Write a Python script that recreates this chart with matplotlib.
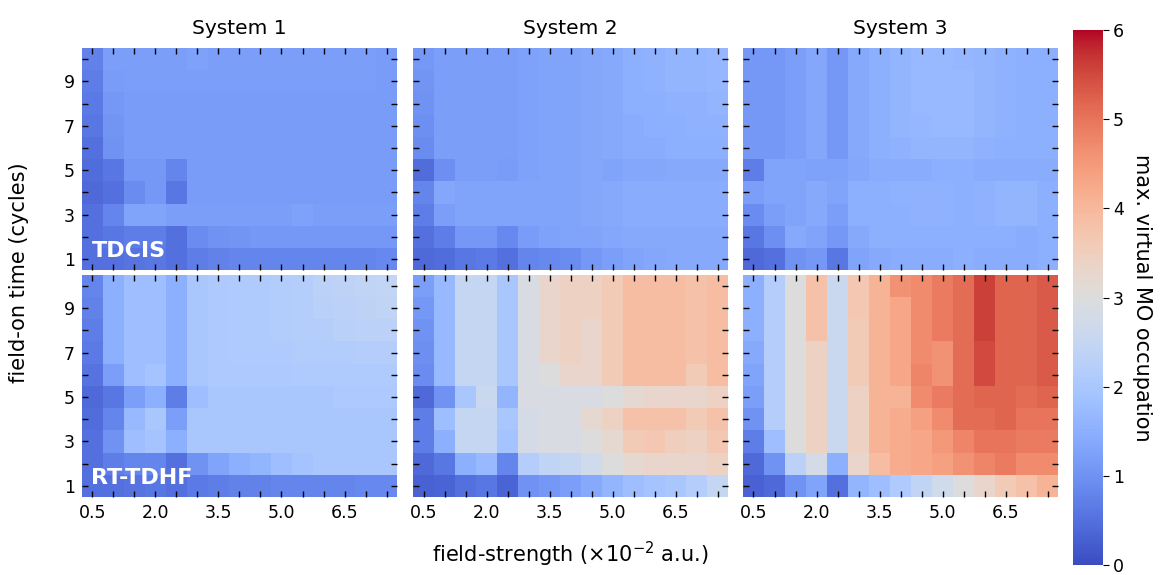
import numpy as np
import matplotlib.pyplot as plt

# field strength (x 10^-2 a.u.) and field-on time (cycles)
field_strength = [0.5, 1.0, 1.5, 2.0, 2.5, 3.0, 3.5, 4.0, 4.5, 5.0, 5.5, 6.0, 6.5, 7.0, 7.5]
field_time = [1, 2, 3, 4, 5, 6, 7, 8, 9, 10]
systems = ["System 1", "System 2", "System 3"]
methods = ["TDCIS", "RT-TDHF"]

# rows: field_time 1 -> 10, columns: field_strength
tdcis_sys1 = [
    [0.5, 0.5, 0.55, 0.6, 0.5, 0.7, 0.75, 0.8, 0.8, 0.8, 0.8, 0.8, 0.8, 0.8, 0.85],
    [0.5, 0.6, 0.7, 0.7, 0.5, 0.9, 1.0, 1.05, 1.1, 1.1, 1.1, 1.1, 1.1, 1.1, 1.1],
    [0.5, 0.8, 1.3, 1.3, 1.2, 1.2, 1.2, 1.2, 1.2, 1.2, 1.25, 1.2, 1.2, 1.2, 1.2],
    [0.4, 0.5, 0.9, 1.1, 0.6, 1.15, 1.15, 1.15, 1.15, 1.15, 1.15, 1.15, 1.15, 1.15, 1.15],
    [0.45, 0.6, 1.1, 1.1, 0.8, 1.15, 1.15, 1.15, 1.15, 1.15, 1.15, 1.15, 1.15, 1.15, 1.15],
    [0.5, 1.0, 1.15, 1.15, 1.15, 1.15, 1.15, 1.15, 1.15, 1.15, 1.15, 1.15, 1.15, 1.15, 1.15],
    [0.6, 1.05, 1.15, 1.15, 1.15, 1.15, 1.15, 1.15, 1.15, 1.15, 1.15, 1.15, 1.15, 1.15, 1.15],
    [0.65, 1.1, 1.15, 1.15, 1.15, 1.15, 1.15, 1.15, 1.15, 1.15, 1.15, 1.15, 1.15, 1.15, 1.15],
    [0.7, 1.15, 1.2, 1.2, 1.2, 1.2, 1.2, 1.2, 1.2, 1.2, 1.2, 1.2, 1.2, 1.2, 1.15],
    [0.75, 1.2, 1.2, 1.2, 1.2, 1.25, 1.2, 1.2, 1.2, 1.2, 1.2, 1.2, 1.2, 1.2, 1.15],
]
tdcis_sys2 = [
    [0.4, 0.45, 0.6, 0.65, 0.5, 0.8, 0.85, 0.9, 1.1, 1.2, 1.3, 1.35, 1.4, 1.4, 1.4],
    [0.5, 0.7, 1.1, 1.1, 0.85, 1.15, 1.25, 1.3, 1.3, 1.35, 1.4, 1.4, 1.4, 1.4, 1.4],
    [0.7, 1.2, 1.3, 1.3, 1.3, 1.3, 1.3, 1.3, 1.35, 1.4, 1.45, 1.45, 1.45, 1.45, 1.45],
    [0.8, 1.35, 1.3, 1.3, 1.3, 1.3, 1.3, 1.3, 1.35, 1.4, 1.45, 1.45, 1.45, 1.45, 1.45],
    [0.45, 0.95, 1.2, 1.2, 1.15, 1.25, 1.3, 1.3, 1.35, 1.3, 1.35, 1.35, 1.4, 1.4, 1.4],
    [0.9, 1.2, 1.2, 1.2, 1.2, 1.25, 1.3, 1.3, 1.35, 1.4, 1.45, 1.45, 1.5, 1.5, 1.5],
    [0.95, 1.2, 1.2, 1.2, 1.2, 1.25, 1.3, 1.3, 1.35, 1.4, 1.45, 1.5, 1.5, 1.55, 1.55],
    [1.0, 1.2, 1.2, 1.2, 1.2, 1.25, 1.3, 1.3, 1.35, 1.4, 1.5, 1.5, 1.55, 1.55, 1.6],
    [1.05, 1.2, 1.2, 1.2, 1.2, 1.25, 1.3, 1.3, 1.35, 1.4, 1.5, 1.55, 1.6, 1.6, 1.65],
    [1.1, 1.2, 1.2, 1.2, 1.2, 1.25, 1.3, 1.3, 1.35, 1.4, 1.5, 1.55, 1.6, 1.6, 1.65],
]
tdcis_sys3 = [
    [0.4, 0.5, 1.0, 1.1, 0.6, 1.3, 1.4, 1.45, 1.45, 1.45, 1.5, 1.45, 1.45, 1.45, 1.5],
    [0.6, 0.95, 1.4, 1.3, 1.1, 1.4, 1.5, 1.5, 1.5, 1.5, 1.5, 1.5, 1.5, 1.45, 1.5],
    [0.9, 1.2, 1.3, 1.4, 1.2, 1.5, 1.5, 1.5, 1.55, 1.55, 1.5, 1.55, 1.6, 1.6, 1.5],
    [1.2, 1.3, 1.3, 1.4, 1.3, 1.5, 1.5, 1.55, 1.55, 1.55, 1.5, 1.55, 1.6, 1.6, 1.5],
    [0.7, 1.3, 1.3, 1.25, 1.25, 1.35, 1.45, 1.45, 1.45, 1.5, 1.5, 1.45, 1.45, 1.45, 1.45],
    [1.1, 1.1, 1.2, 1.35, 1.1, 1.4, 1.5, 1.55, 1.6, 1.6, 1.6, 1.55, 1.5, 1.5, 1.5],
    [1.1, 1.1, 1.2, 1.35, 1.1, 1.4, 1.5, 1.6, 1.65, 1.7, 1.7, 1.6, 1.55, 1.5, 1.5],
    [1.1, 1.1, 1.2, 1.35, 1.1, 1.4, 1.5, 1.6, 1.7, 1.7, 1.7, 1.6, 1.55, 1.5, 1.5],
    [1.1, 1.1, 1.2, 1.35, 1.1, 1.4, 1.5, 1.6, 1.7, 1.7, 1.7, 1.6, 1.55, 1.5, 1.5],
    [1.1, 1.1, 1.2, 1.35, 1.1, 1.4, 1.5, 1.6, 1.7, 1.7, 1.65, 1.6, 1.55, 1.5, 1.5],
]
rttdhf_sys1 = [
    [0.5, 0.5, 0.55, 0.6, 0.5, 0.65, 0.7, 0.75, 0.75, 0.8, 0.8, 0.8, 0.8, 0.85, 0.85],
    [0.5, 0.7, 0.8, 0.8, 0.5, 1.0, 1.3, 1.5, 1.6, 1.8, 1.9, 2.0, 2.0, 2.0, 2.0],
    [0.5, 1.0, 1.8, 1.9, 1.5, 2.0, 2.0, 2.0, 2.0, 2.0, 2.0, 2.0, 2.0, 2.0, 2.0],
    [0.45, 0.8, 1.7, 2.0, 1.2, 2.0, 2.0, 2.0, 2.0, 2.0, 2.0, 2.0, 2.0, 2.0, 2.0],
    [0.4, 0.6, 1.2, 1.5, 0.7, 1.8, 2.0, 2.0, 2.0, 2.0, 2.0, 2.0, 2.05, 2.05, 2.05],
    [0.55, 1.2, 1.8, 1.9, 1.5, 2.0, 2.05, 2.05, 2.05, 2.05, 2.1, 2.1, 2.1, 2.1, 2.1],
    [0.65, 1.5, 1.8, 1.8, 1.5, 2.0, 2.05, 2.1, 2.1, 2.1, 2.15, 2.15, 2.15, 2.2, 2.2],
    [0.7, 1.5, 1.8, 1.8, 1.5, 2.0, 2.05, 2.1, 2.1, 2.15, 2.2, 2.2, 2.25, 2.3, 2.3],
    [0.75, 1.5, 1.8, 1.8, 1.5, 2.0, 2.05, 2.1, 2.1, 2.15, 2.2, 2.25, 2.3, 2.35, 2.4],
    [0.8, 1.5, 1.8, 1.8, 1.5, 2.0, 2.05, 2.1, 2.1, 2.15, 2.2, 2.3, 2.35, 2.4, 2.45],
]
rttdhf_sys2 = [
    [0.3, 0.35, 0.5, 0.6, 0.35, 1.0, 1.1, 1.2, 1.4, 1.6, 1.8, 1.9, 2.0, 2.2, 2.5],
    [0.4, 0.6, 1.5, 1.7, 0.8, 2.2, 2.4, 2.5, 2.7, 3.0, 3.2, 3.3, 3.3, 3.3, 3.4],
    [0.7, 1.5, 2.5, 2.5, 1.9, 2.8, 2.9, 2.9, 3.0, 3.2, 3.6, 3.7, 3.5, 3.4, 3.7],
    [0.7, 1.8, 2.5, 2.5, 2.0, 2.8, 2.9, 2.9, 3.2, 3.4, 3.8, 3.8, 3.8, 3.6, 3.8],
    [0.4, 1.0, 2.0, 2.6, 1.6, 2.9, 2.9, 2.9, 2.9, 3.0, 3.2, 3.3, 3.3, 3.3, 3.4],
    [0.9, 1.7, 2.5, 2.5, 2.0, 2.9, 3.0, 3.3, 3.3, 3.6, 3.9, 3.9, 3.9, 3.6, 3.9],
    [0.95, 1.7, 2.5, 2.5, 2.0, 2.9, 3.3, 3.4, 3.3, 3.6, 3.9, 3.9, 3.9, 3.8, 3.9],
    [1.0, 1.7, 2.5, 2.5, 2.0, 2.9, 3.3, 3.4, 3.3, 3.6, 3.9, 3.9, 3.9, 3.8, 3.9],
    [1.1, 1.7, 2.5, 2.5, 2.0, 2.9, 3.3, 3.4, 3.4, 3.6, 3.9, 3.9, 3.9, 3.8, 3.9],
    [1.2, 1.7, 2.5, 2.5, 2.0, 2.9, 3.3, 3.4, 3.4, 3.6, 3.9, 3.9, 3.9, 3.8, 3.9],
]
rttdhf_sys3 = [
    [0.3, 0.4, 1.0, 1.3, 0.5, 1.6, 1.8, 2.1, 2.4, 2.7, 3.0, 3.3, 3.6, 3.8, 4.1],
    [0.4, 1.0, 2.3, 2.8, 1.5, 3.3, 3.9, 4.2, 4.3, 4.4, 4.6, 4.8, 4.9, 4.7, 4.7],
    [0.7, 1.8, 3.0, 3.4, 2.6, 3.4, 4.1, 4.2, 4.3, 4.5, 4.8, 5.0, 5.0, 4.9, 4.9],
    [1.0, 2.2, 3.0, 3.4, 2.6, 3.4, 4.1, 4.2, 4.4, 4.7, 5.1, 5.1, 5.2, 5.0, 5.0],
    [1.2, 2.2, 3.0, 3.4, 2.6, 3.4, 4.1, 4.1, 4.7, 4.9, 5.1, 5.2, 5.2, 5.1, 5.2],
    [1.3, 2.2, 3.0, 3.4, 2.6, 3.6, 4.1, 4.3, 4.8, 4.6, 5.1, 5.5, 5.2, 5.2, 5.3],
    [1.4, 2.2, 3.0, 3.4, 2.6, 3.6, 4.1, 4.3, 4.7, 4.6, 5.1, 5.5, 5.2, 5.2, 5.3],
    [1.5, 2.2, 3.0, 3.8, 2.6, 3.6, 4.1, 4.3, 4.7, 4.9, 5.1, 5.6, 5.2, 5.2, 5.3],
    [1.5, 2.2, 3.0, 3.8, 2.6, 3.7, 4.1, 4.3, 4.7, 4.9, 5.1, 5.6, 5.2, 5.2, 5.3],
    [1.5, 2.2, 3.0, 3.8, 2.6, 3.7, 4.1, 4.6, 4.7, 4.9, 5.1, 5.6, 5.2, 5.2, 5.3],
]

data = [[tdcis_sys1, tdcis_sys2, tdcis_sys3],
        [rttdhf_sys1, rttdhf_sys2, rttdhf_sys3]]

plt.rcParams['font.family'] = 'DejaVu Sans'
fig = plt.figure(figsize=(11.76, 5.75), dpi=100)

lefts = [0.0697, 0.3512, 0.6318]
width = 0.2679
bottoms = [0.530, 0.1357]
height = 0.3865

x = np.array(field_strength)
y = np.array(field_time)
dx = x[1] - x[0]
xedges = np.append(x - dx / 2, x[-1] + dx / 2)
yedges = np.append(y - 0.5, y[-1] + 0.5)

xlabels = [f"{v:.1f}" if i % 3 == 0 else "" for i, v in enumerate(field_strength)]
ylabels = [str(v) if i % 2 == 0 else "" for i, v in enumerate(field_time)]

mesh = None
for r in range(2):
    for c in range(3):
        ax = fig.add_axes([lefts[c], bottoms[r], width, height])
        mesh = ax.pcolormesh(xedges, yedges, np.array(data[r][c]), cmap='coolwarm',
                             vmin=0, vmax=6, shading='flat')
        ax.set_xticks(x)
        ax.set_yticks(y)
        ax.tick_params(direction='in', top=True, right=True, length=4, width=1,
                       labelsize=12.5, pad=5)
        if r == 1:
            ax.set_xticklabels(xlabels)
        else:
            ax.set_xticklabels([])
        if c == 0:
            ax.set_yticklabels(ylabels)
        else:
            ax.set_yticklabels([])
        for s in ax.spines.values():
            s.set_visible(False)
        if r == 0:
            ax.set_title(systems[c], fontsize=14.5, pad=10)
        if c == 0:
            ax.text(0.03, 0.04, methods[r], transform=ax.transAxes, color='white',
                    fontsize=16, fontweight='bold', ha='left', va='bottom')

cax = fig.add_axes([0.9125, 0.017, 0.025, 0.931])
cb = fig.colorbar(mesh, cax=cax, ticks=range(7))
cb.outline.set_visible(False)
cb.ax.tick_params(labelsize=12.5, length=4)
cb.set_label('max. virtual MO occupation', rotation=270, fontsize=15, labelpad=20)

fig.text(0.008, 0.525, 'field-on time (cycles)', rotation=90, fontsize=15,
         ha='left', va='center')
fig.text(0.485, 0.035, r'field-strength ($\times10^{-2}$ a.u.)', fontsize=15,
         ha='center', va='center')

fig.savefig('out.png', dpi=100)
